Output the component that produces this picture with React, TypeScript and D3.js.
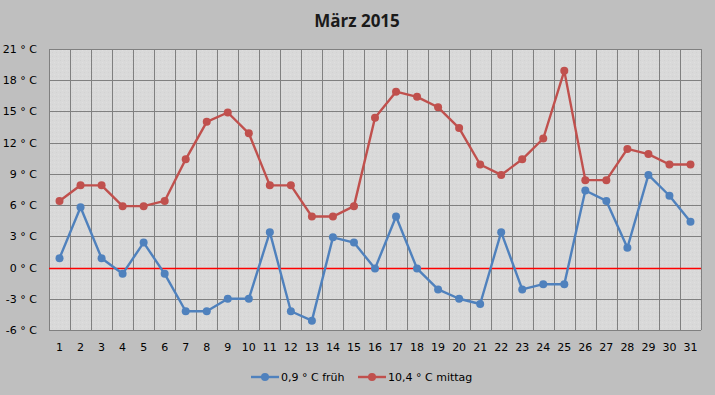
import React from "react";
import * as d3 from "d3";

const days: number[] = Array.from({ length: 31 }, (_, i) => i + 1);
const fruehValues: number[] = [0.9, 5.8, 0.9, -0.6, 2.4, -0.6, -4.2, -4.2, -3.0, -3.0, 3.4, -4.2, -5.1, 2.9, 2.4, -0.1, 4.9, -0.1, -2.1, -3.0, -3.5, 3.4, -2.1, -1.6, -1.6, 7.4, 6.4, 1.9, 8.9, 6.9, 4.4];
const mittagValues: number[] = [6.4, 7.9, 7.9, 5.9, 5.9, 6.4, 10.4, 14.0, 14.9, 12.9, 7.9, 7.9, 4.9, 4.9, 5.9, 14.4, 16.9, 16.4, 15.4, 13.4, 9.9, 8.9, 10.4, 12.4, 18.9, 8.4, 8.4, 11.4, 10.9, 9.9, 9.9];
const yTicks: number[] = [-6, -3, 0, 3, 6, 9, 12, 15, 18, 21];
const seriesNames: string[] = ["0,9 ° C früh", "10,4 ° C mittag"];
const title = "März 2015";

const W = 715, H = 395;
const L = 49, R = 701, T = 49, B = 330;
const BLUE = "#4F81BD", RED = "#C0504D";

export default function App() {
  const x = d3.scaleBand<number>().domain(days).range([L, R]);
  const y = d3.scaleLinear().domain([-6, 21]).range([B, T]);
  const cx = (d: number) => (x(d) as number) + x.bandwidth() / 2;
  const line = d3.line<[number, number]>().x(p => cx(p[0])).y(p => y(p[1]));
  const series = [
    { name: seriesNames[0], vals: fruehValues, color: BLUE },
    { name: seriesNames[1], vals: mittagValues, color: RED },
  ];
  const font = "Tahoma, 'DejaVu Sans', sans-serif";
  const boundaries = [...days.map(d => x(d) as number), R];
  return (
    <svg width={W} height={H} style={{ position: "absolute", left: 0, top: 0 }}>
      <defs>
        <pattern id="tex" width="4" height="4" patternUnits="userSpaceOnUse">
          <rect width="4" height="4" fill="#D9D9D9" />
          <rect x="0" y="0" width="1" height="1" fill="#D2D2D2" />
          <rect x="2" y="2" width="1" height="1" fill="#DFDFDF" />
        </pattern>
      </defs>
      <rect x={0} y={0} width={W} height={H} fill="#BFBFBF" />
      <text x={357} y={27} textAnchor="middle" fontFamily="'Open Sans', Calibri, sans-serif" fontWeight="bold" fontSize={17} fill="#1a1a1a">{title}</text>
      <rect x={L} y={T} width={R - L} height={B - T} fill="url(#tex)" />
      {yTicks.map(t => (
        <line key={"h" + t} x1={L} x2={R} y1={Math.round(y(t)) + 0.5} y2={Math.round(y(t)) + 0.5} stroke="#808080" strokeWidth={1} />
      ))}
      {boundaries.map((bx, i) => (
        <line key={"v" + i} x1={Math.round(bx) + 0.5} x2={Math.round(bx) + 0.5} y1={T} y2={B} stroke="#808080" strokeWidth={1} />
      ))}
      <line x1={L} x2={R} y1={Math.round(y(0)) + 0.5} y2={Math.round(y(0)) + 0.5} stroke="#FF0000" strokeWidth={1.3} />
      {yTicks.map(t => (
        <text key={"yl" + t} x={37} y={y(t) + 4} textAnchor="end" fontFamily={font} fontSize={11} fill="#000">{`${t} ° C`}</text>
      ))}
      {days.map(d => (
        <text key={"xl" + d} x={cx(d)} y={351} textAnchor="middle" fontFamily={font} fontSize={11} fill="#000">{d}</text>
      ))}
      {series.map(s => (
        <g key={s.name}>
          <path d={line(days.map((d, i) => [d, s.vals[i]] as [number, number])) || ""} fill="none" stroke={s.color} strokeWidth={2.4} strokeLinejoin="round" />
          {days.map((d, i) => (
            <circle key={d} cx={cx(d)} cy={y(s.vals[i])} r={4} fill={s.color} />
          ))}
        </g>
      ))}
      {series.map((s, i) => {
        const lx = i === 0 ? 251 : 358;
        return (
          <g key={"lg" + i}>
            <line x1={lx} x2={lx + 28} y1={377} y2={377} stroke={s.color} strokeWidth={2.4} />
            <circle cx={lx + 14} cy={377} r={4} fill={s.color} />
            <text x={lx + 30} y={381} fontFamily={font} fontSize={11} fill="#000">{s.name}</text>
          </g>
        );
      })}
    </svg>
  );
}
